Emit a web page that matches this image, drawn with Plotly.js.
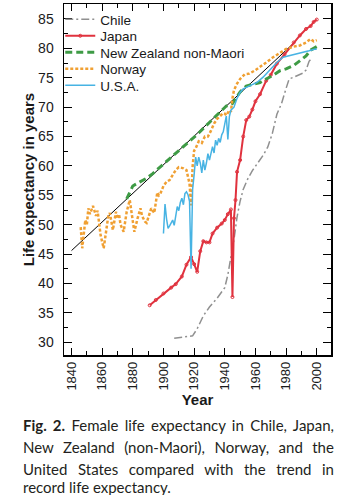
<!DOCTYPE html>
<html>
<head>
<meta charset="utf-8">
<script src="https://cdn.plot.ly/plotly-3.0.1.min.js"></script>
<style>
html, body { margin: 0; padding: 0; background: #ffffff; }
#chart { width: 350px; height: 495px; }
</style>
</head>
<body>
<div id="chart"></div>
<script>
// ---- Data ----
var trendYears = [1840, 1985];
var trendValues = [45.6, 80.9];

var chileYears = [1907, 1914, 1919, 1922, 1926, 1930, 1935, 1940, 1942, 1944, 1946, 1948, 1950, 1952, 1955, 1958, 1962, 1965, 1968, 1971, 1974, 1977, 1980, 1982, 1985, 1988, 1991, 1993, 1995, 1997];
var chileValues = [30.7, 30.9, 31.1, 32.3, 34.5, 36.0, 37.5, 39.3, 41.5, 44.5, 47.5, 51.3, 54.0, 56.0, 57.8, 59.2, 60.7, 61.8, 63.2, 65.5, 68.8, 70.6, 73.2, 74.8, 75.1, 75.4, 75.8, 76.3, 77.8, 78.4];

var japanYears = [1891, 1895, 1900, 1905, 1908, 1912, 1915, 1918, 1920, 1922, 1924, 1926, 1928, 1930, 1932, 1935, 1938, 1940, 1942, 1944, 1945, 1946, 1947, 1948, 1950, 1952, 1954, 1956, 1958, 1960, 1963, 1967, 1970, 1974, 1979, 1985, 1989, 1993, 1996, 1998, 2000];
var japanValues = [36.3, 37.2, 38.3, 39.3, 39.9, 41.2, 43.2, 44.5, 43.3, 42.0, 45.5, 47.2, 47.0, 47.0, 48.5, 49.5, 50.2, 50.8, 51.8, 52.6, 37.7, 51.1, 54.2, 59.0, 61.0, 65.0, 67.8, 68.4, 69.6, 71.0, 72.2, 74.5, 75.5, 77.4, 79.0, 81.0, 82.2, 83.3, 83.8, 84.5, 84.9];

var nzYears = [1876, 1878, 1880, 1882, 1885, 1889, 1893, 1897, 1901, 1905, 1909, 1913, 1918, 1923, 1928, 1933, 1938, 1941, 1945, 1950, 1954, 1958, 1963, 1967, 1971, 1976, 1980, 1985, 1989, 1993, 1996, 1999, 2000];
var nzValues = [54.4, 55.6, 56.6, 56.9, 57.3, 57.9, 58.7, 59.6, 60.6, 61.5, 62.4, 63.3, 64.4, 65.6, 66.9, 68.2, 69.4, 70.2, 70.6, 72.6, 73.6, 73.9, 74.2, 74.8, 75.35, 76.2, 76.5, 77.1, 77.9, 78.7, 79.7, 80.2, 80.3];

var norwayYears = [1846, 1847, 1849, 1850, 1851, 1852, 1854, 1856, 1857, 1859, 1861, 1863, 1864, 1865, 1867, 1869, 1870, 1871, 1872, 1874, 1876, 1878, 1880, 1881, 1883, 1885, 1886, 1888, 1889, 1891, 1892, 1894, 1896, 1897, 1898, 1900, 1902, 1904, 1906, 1908, 1910, 1913, 1915, 1917, 1918, 1919, 1920, 1921, 1923, 1925, 1927, 1929, 1931, 1933, 1935, 1937, 1939, 1940, 1941, 1943, 1944, 1945, 1946, 1948, 1950, 1953, 1956, 1960, 1963, 1967, 1971, 1976, 1980, 1985, 1989, 1993, 1996, 1998, 2000];
var norwayValues = [49.6, 46.0, 50.8, 50.0, 52.8, 51.8, 53.2, 51.5, 52.4, 48.2, 46.0, 49.5, 51.5, 52.0, 49.1, 52.2, 51.0, 51.8, 50.0, 48.8, 52.2, 54.2, 50.8, 48.8, 51.0, 52.8, 51.5, 50.5, 50.3, 52.0, 52.8, 52.0, 55.5, 55.0, 55.3, 56.6, 57.3, 57.6, 58.5, 59.3, 59.8, 59.6, 59.3, 57.0, 53.3, 59.9, 62.6, 63.0, 64.2, 63.9, 65.0, 65.0, 66.0, 67.2, 68.0, 68.5, 69.0, 68.9, 68.6, 69.5, 69.2, 71.5, 72.9, 74.0, 74.8, 75.6, 75.7, 76.3, 76.8, 77.6, 78.4, 79.3, 79.9, 80.3, 80.5, 81.0, 81.6, 81.2, 81.4];

var usaYears = [1900, 1901, 1902, 1903, 1904, 1905, 1906, 1907, 1908, 1909, 1910, 1911, 1912, 1913, 1914, 1915, 1916, 1917, 1918, 1919, 1920, 1921, 1922, 1923, 1924, 1925, 1926, 1927, 1928, 1929, 1930, 1931, 1932, 1933, 1934, 1935, 1936, 1937, 1938, 1939, 1940, 1941, 1942, 1943, 1944, 1946, 1948, 1950, 1952, 1955, 1958, 1961, 1965, 1969, 1974, 1978, 1983, 1987, 1991, 1995, 1999, 2000];
var usaValues = [48.5, 53.5, 51.0, 49.4, 49.8, 50.3, 50.8, 49.9, 52.0, 53.1, 52.4, 53.8, 54.5, 53.4, 55.3, 55.6, 55.1, 54.0, 42.5, 56.0, 58.5, 61.5, 60.0, 61.5, 60.5, 58.8, 61.0, 59.3, 60.5, 62.1, 61.0, 62.0, 63.3, 62.2, 64.4, 63.5, 64.7, 64.0, 65.3, 65.8, 67.0, 68.5, 64.5, 68.4, 69.5, 70.0, 71.5, 72.5, 73.1, 73.5, 73.9, 74.2, 75.1, 76.2, 77.6, 78.5, 78.8, 79.05, 79.3, 79.6, 79.9, 79.85];

var seriesNames = ["Chile", "Japan", "New Zealand non-Maori", "Norway", "U.S.A."];
var xTickVals = [1840, 1860, 1880, 1900, 1920, 1940, 1960, 1980, 2000];
var xTickText = ["1840", "1860", "1880", "1900", "1920", "1940", "1960", "1980", "2000"];
var yTickVals = [30, 35, 40, 45, 50, 55, 60, 65, 70, 75, 80, 85];
var captionLines = [
  "<b>Fig. 2.</b> Female life expectancy in Chile, Japan,",
  "New Zealand (non-Maori), Norway, and the",
  "United States compared with the trend in",
  "record life expectancy."
];

// ---- Chart ----
var sans = "Liberation Sans, Arial, sans-serif";

var traces = [
  {x: trendYears, y: trendValues, mode: "lines", line: {color: "#000000", width: 1}, showlegend: false, hoverinfo: "skip"},
  {x: chileYears, y: chileValues, name: seriesNames[0], mode: "lines", line: {color: "#909090", width: 1.5, dash: "8px,3px,2px,3px"}},
  {x: japanYears, y: japanValues, name: seriesNames[1], mode: "lines+markers", line: {color: "#e0323e", width: 2},
   marker: {symbol: "circle-open", size: 3, color: "#e0323e", line: {width: 1}}},
  {x: nzYears, y: nzValues, name: seriesNames[2], mode: "lines", line: {color: "#3e9b45", width: 3, dash: "7px,4px"}},
  {x: norwayYears, y: norwayValues, name: seriesNames[3], mode: "lines", line: {color: "#f0a033", width: 2.5, dash: "3px,2px"}},
  {x: usaYears, y: usaValues, name: seriesNames[4], mode: "lines", line: {color: "#47b3e3", width: 1.5}}
];

var annotations = [];
var captionY = [-0.1994, -0.2621, -0.3248, -0.3761];
for (var i = 0; i < captionLines.length; i++) {
  annotations.push({
    text: captionLines[i], xref: "paper", yref: "paper",
    x: -0.162, y: captionY[i], xanchor: "left", yanchor: "middle",
    showarrow: false, align: "left",
    font: {family: "Lato, Open Sans, sans-serif", size: 15, color: "#231f20"}
  });
}

var layout = {
  width: 350, height: 495,
  margin: {l: 64, r: 19, t: 4, b: 140, pad: 0},
  paper_bgcolor: "#ffffff", plot_bgcolor: "#ffffff",
  showlegend: true,
  legend: {
    x: -0.014, y: 1.0, xanchor: "left", yanchor: "top",
    bgcolor: "rgba(255,255,255,0)", borderwidth: 0,
    font: {family: sans, size: 13.5, color: "#1a1a1a"},
    tracegroupgap: 0, itemwidth: 30
  },
  xaxis: {
    range: [1835.1, 2009.3], showgrid: false, zeroline: false,
    showline: true, linecolor: "#000000", linewidth: 1.5, mirror: "allticks",
    ticks: "inside", ticklen: 7, tickwidth: 1, tickcolor: "#000000",
    tickmode: "array", tickvals: xTickVals, ticktext: xTickText, tickangle: -90,
    tickfont: {family: sans, size: 13, color: "#1a1a1a"},
    minor: {dtick: 10, tick0: 1840, ticks: "inside", ticklen: 4, tickwidth: 1, tickcolor: "#000000", showgrid: false},
    title: {text: "<b>Year</b>", font: {family: sans, size: 15, color: "#1a1a1a"}, standoff: 4},
    automargin: false
  },
  yaxis: {
    range: [27.84, 87.55], showgrid: false, zeroline: false,
    showline: true, linecolor: "#000000", linewidth: 1.5, mirror: "allticks",
    ticks: "inside", ticklen: 8, tickwidth: 1, tickcolor: "#000000",
    tickmode: "array", tickvals: yTickVals, tickfont: {family: sans, size: 14, color: "#1a1a1a"},
    ticklabelstandoff: 6,
    minor: {dtick: 2.5, tick0: 0, ticks: "inside", ticklen: 4, tickwidth: 1, tickcolor: "#000000", showgrid: false},
    title: {text: "<b>Life expectancy in years</b>", font: {family: sans, size: 15, color: "#1a1a1a"}, standoff: 0},
    automargin: false
  },
  annotations: annotations
};

Plotly.newPlot("chart", traces, layout, {displayModeBar: false, staticPlot: true}).then(function (gd) {
  // tighten legend row spacing to match the reference
  var items = gd.querySelectorAll(".legend .traces");
  var step = 16.5, y0 = null;
  items.forEach(function (el, k) {
    var tr = el.getAttribute("transform") || "";
    var m = /translate\(\s*([-\d.]+)[ ,]+([-\d.]+)\s*\)/.exec(tr);
    if (!m) return;
    var x = parseFloat(m[1]), y = parseFloat(m[2]);
    if (y0 === null) y0 = y;
    el.setAttribute("transform", "translate(" + x + "," + (y0 + k * step) + ")");
  });
  // justify the first three caption lines to the caption width
  var texts = gd.querySelectorAll(".annotation-text");
  var targetWidth = 311;
  for (var j = 0; j < texts.length - 1 && j < 3; j++) {
    var t = texts[j];
    var w = t.getBBox().width;
    var spaces = (t.textContent.match(/ /g) || []).length;
    if (spaces > 0 && w < targetWidth) {
      t.setAttribute("word-spacing", ((targetWidth - w) / spaces).toFixed(2));
    }
  }
});
</script>
</body>
</html>
